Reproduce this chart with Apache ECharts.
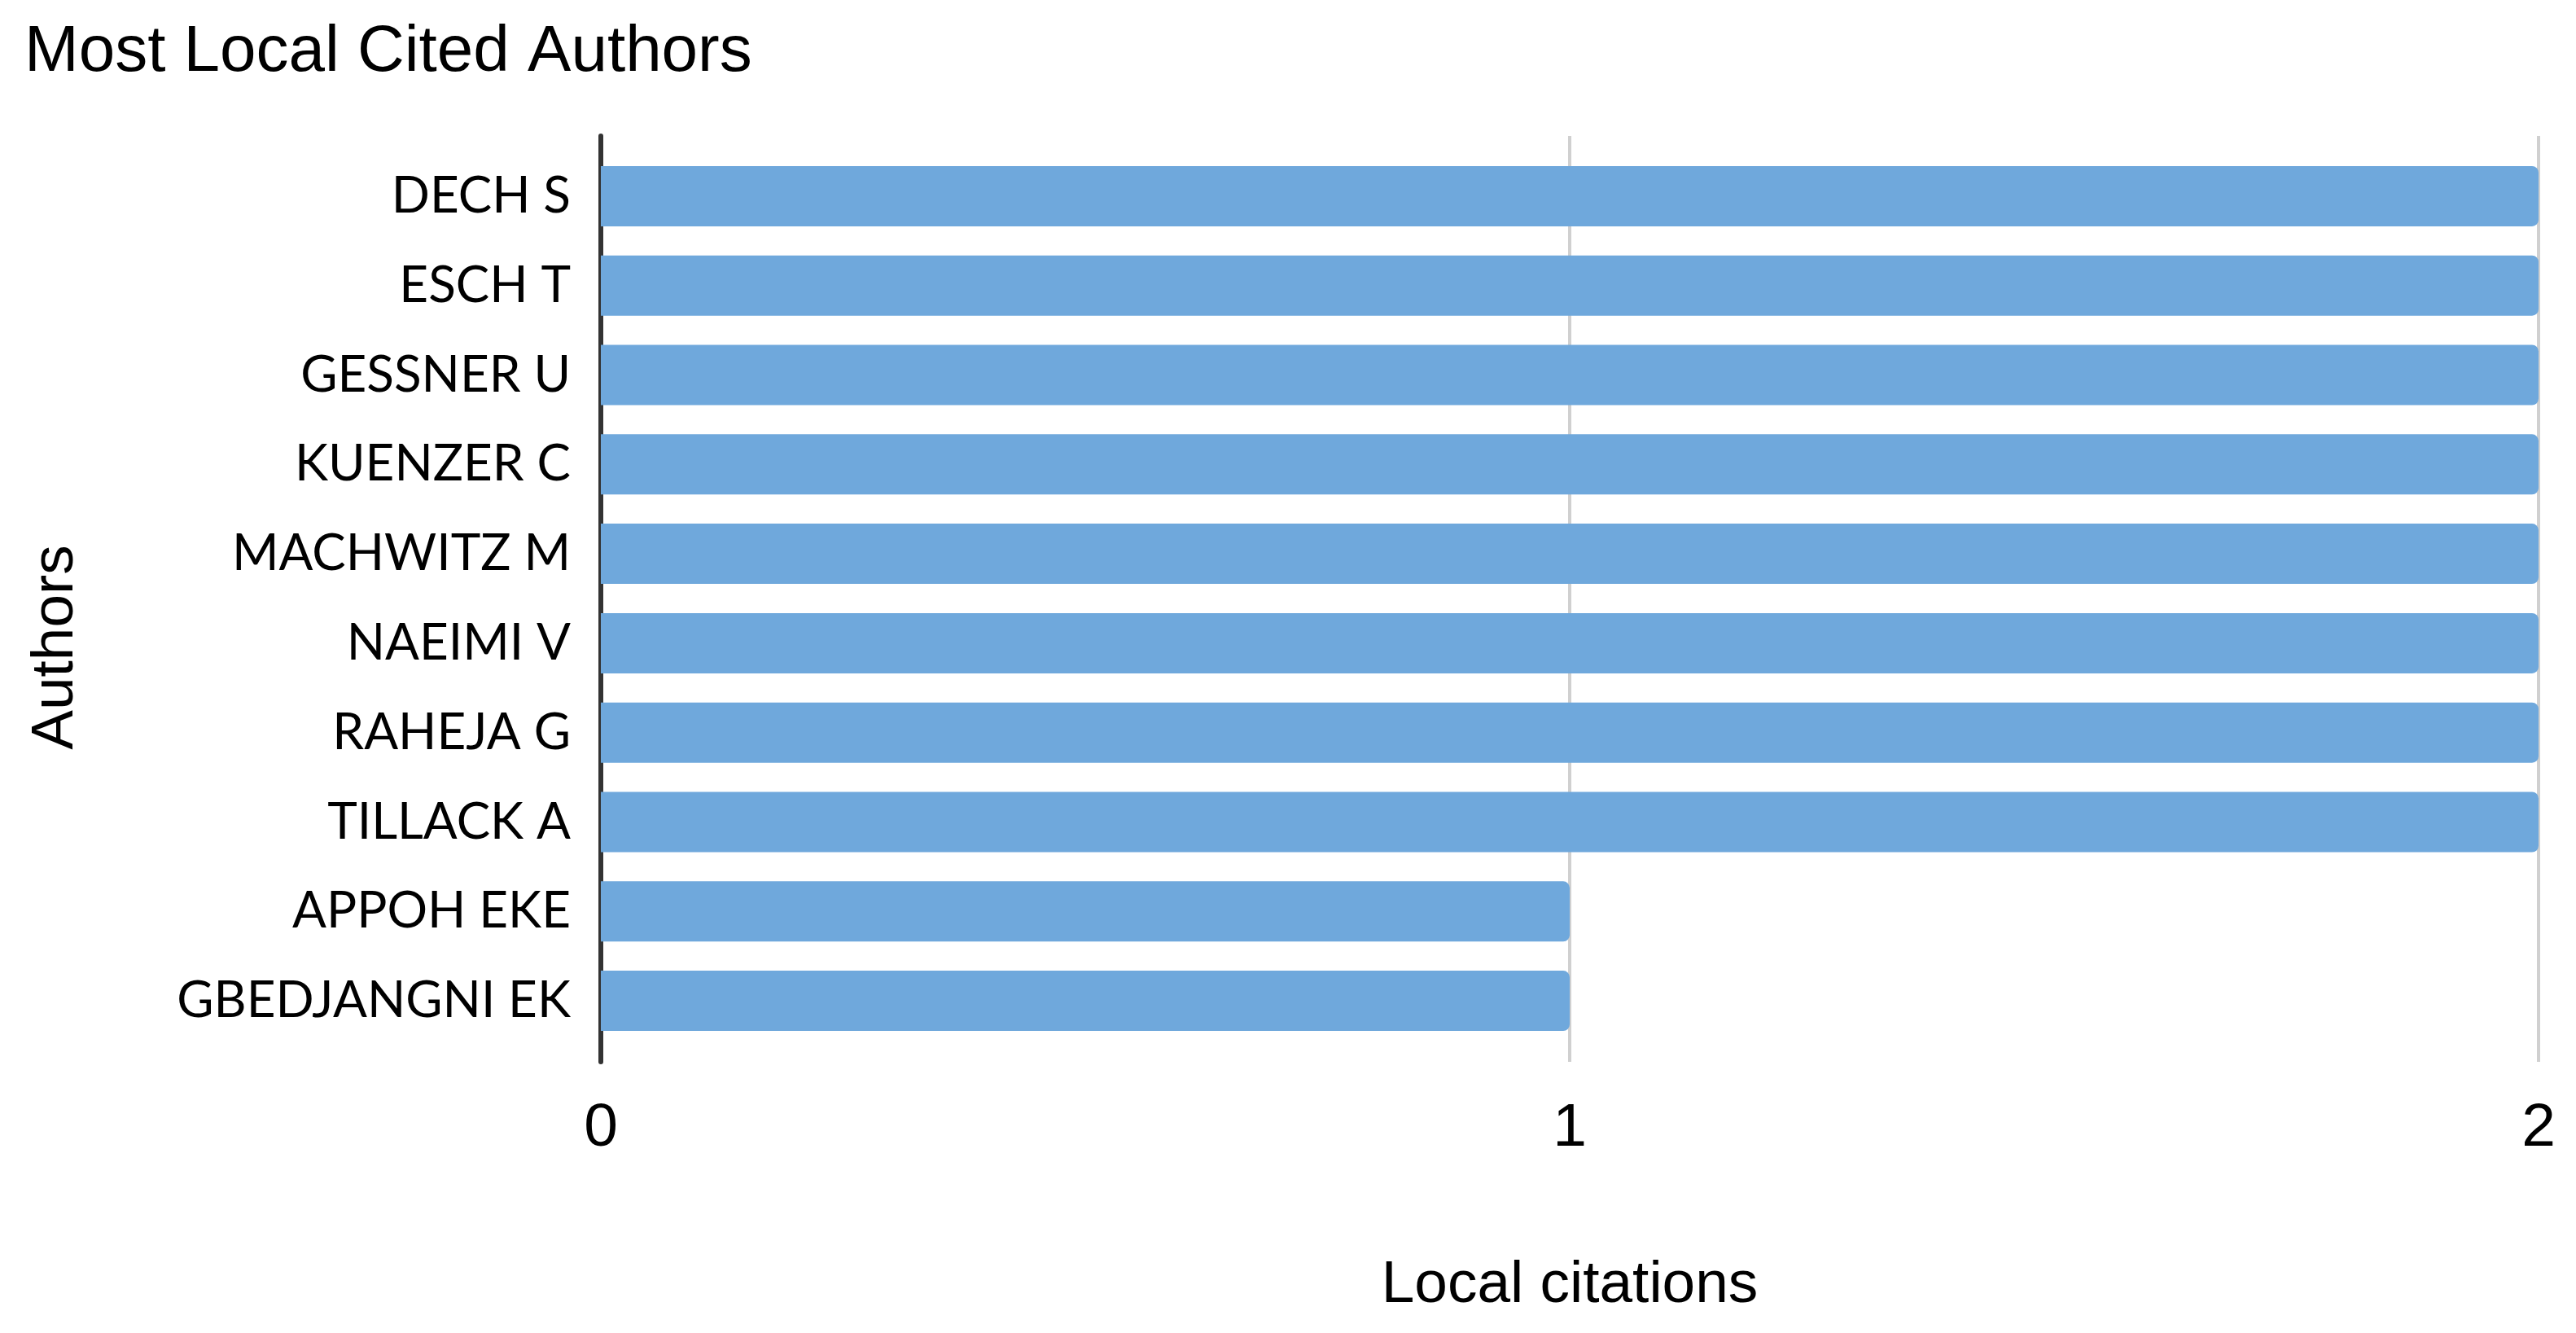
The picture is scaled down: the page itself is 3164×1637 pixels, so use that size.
<!DOCTYPE html>
<html>
<head>
<meta charset="utf-8">
<script src="https://cdn.jsdelivr.net/npm/echarts@6/dist/echarts.min.js"></script>
<style>
html,body{margin:0;padding:0;background:#fff;}
#chart{width:3164px;height:1637px;}
</style>
</head>
<body>
<div id="chart"></div>
<script>
const authors = ["DECH S","ESCH T","GESSNER U","KUENZER C","MACHWITZ M","NAEIMI V","RAHEJA G","TILLACK A","APPOH EKE","GBEDJANGNI EK"];
const citations = [2,2,2,2,2,2,2,2,1,1];
const xTicks = [0,1,2];

const chart = echarts.init(document.getElementById('chart'), null, {renderer:'canvas'});
const arial = "'Liberation Sans', Arial, Helvetica, sans-serif";
chart.setOption({
  animation:false,
  backgroundColor:'#ffffff',
  title:{
    text:'Most Local Cited Authors',
    left:25, top:20,
    textStyle:{fontFamily:arial,fontSize:80,fontWeight:'normal',color:'#000'}
  },
  grid:[
    {left:738,right:46,top:167,bottom:333,containLabel:false},
    {left:738,right:46,top:186,bottom:353,containLabel:false}
  ],
  xAxis:[
    {
      gridIndex:0,type:'value',min:xTicks[0],max:xTicks[xTicks.length-1],interval:1,
      axisLine:{show:false},axisTick:{show:false},
      splitLine:{show:true,lineStyle:{color:'#d0d0d0',width:4}},
      axisLabel:{fontFamily:arial,fontSize:75,color:'#000',margin:45},
      name:'Local citations',nameLocation:'middle',nameGap:238,
      nameTextStyle:{fontFamily:arial,fontSize:73,color:'#000'}
    },
    {gridIndex:1,type:'value',min:0,max:2,show:false}
  ],
  yAxis:[
    {
      gridIndex:0,type:'value',min:0,max:1,
      axisLine:{show:true,lineStyle:{color:'#333333',width:6}},
      axisTick:{show:false},axisLabel:{show:false},splitLine:{show:false}
    },
    {
      gridIndex:1,type:'category',data:authors,inverse:true,
      axisLine:{show:false},axisTick:{show:false},splitLine:{show:false},
      axisLabel:{fontFamily:"Lato, 'Open Sans', sans-serif",fontSize:62,color:'#000',margin:37},
      name:'Authors',nameLocation:'middle',nameGap:633,nameRotate:90,
      nameTextStyle:{fontFamily:arial,fontSize:73,color:'#000',padding:[0,120,0,0]}
    }
  ],
  series:[{
    type:'bar',xAxisIndex:1,yAxisIndex:1,data:citations,
    barCategoryGap:'32.6%',
    itemStyle:{color:'#6FA8DC',borderRadius:[0,8,8,0]}
  }]
});
</script>
</body>
</html>
